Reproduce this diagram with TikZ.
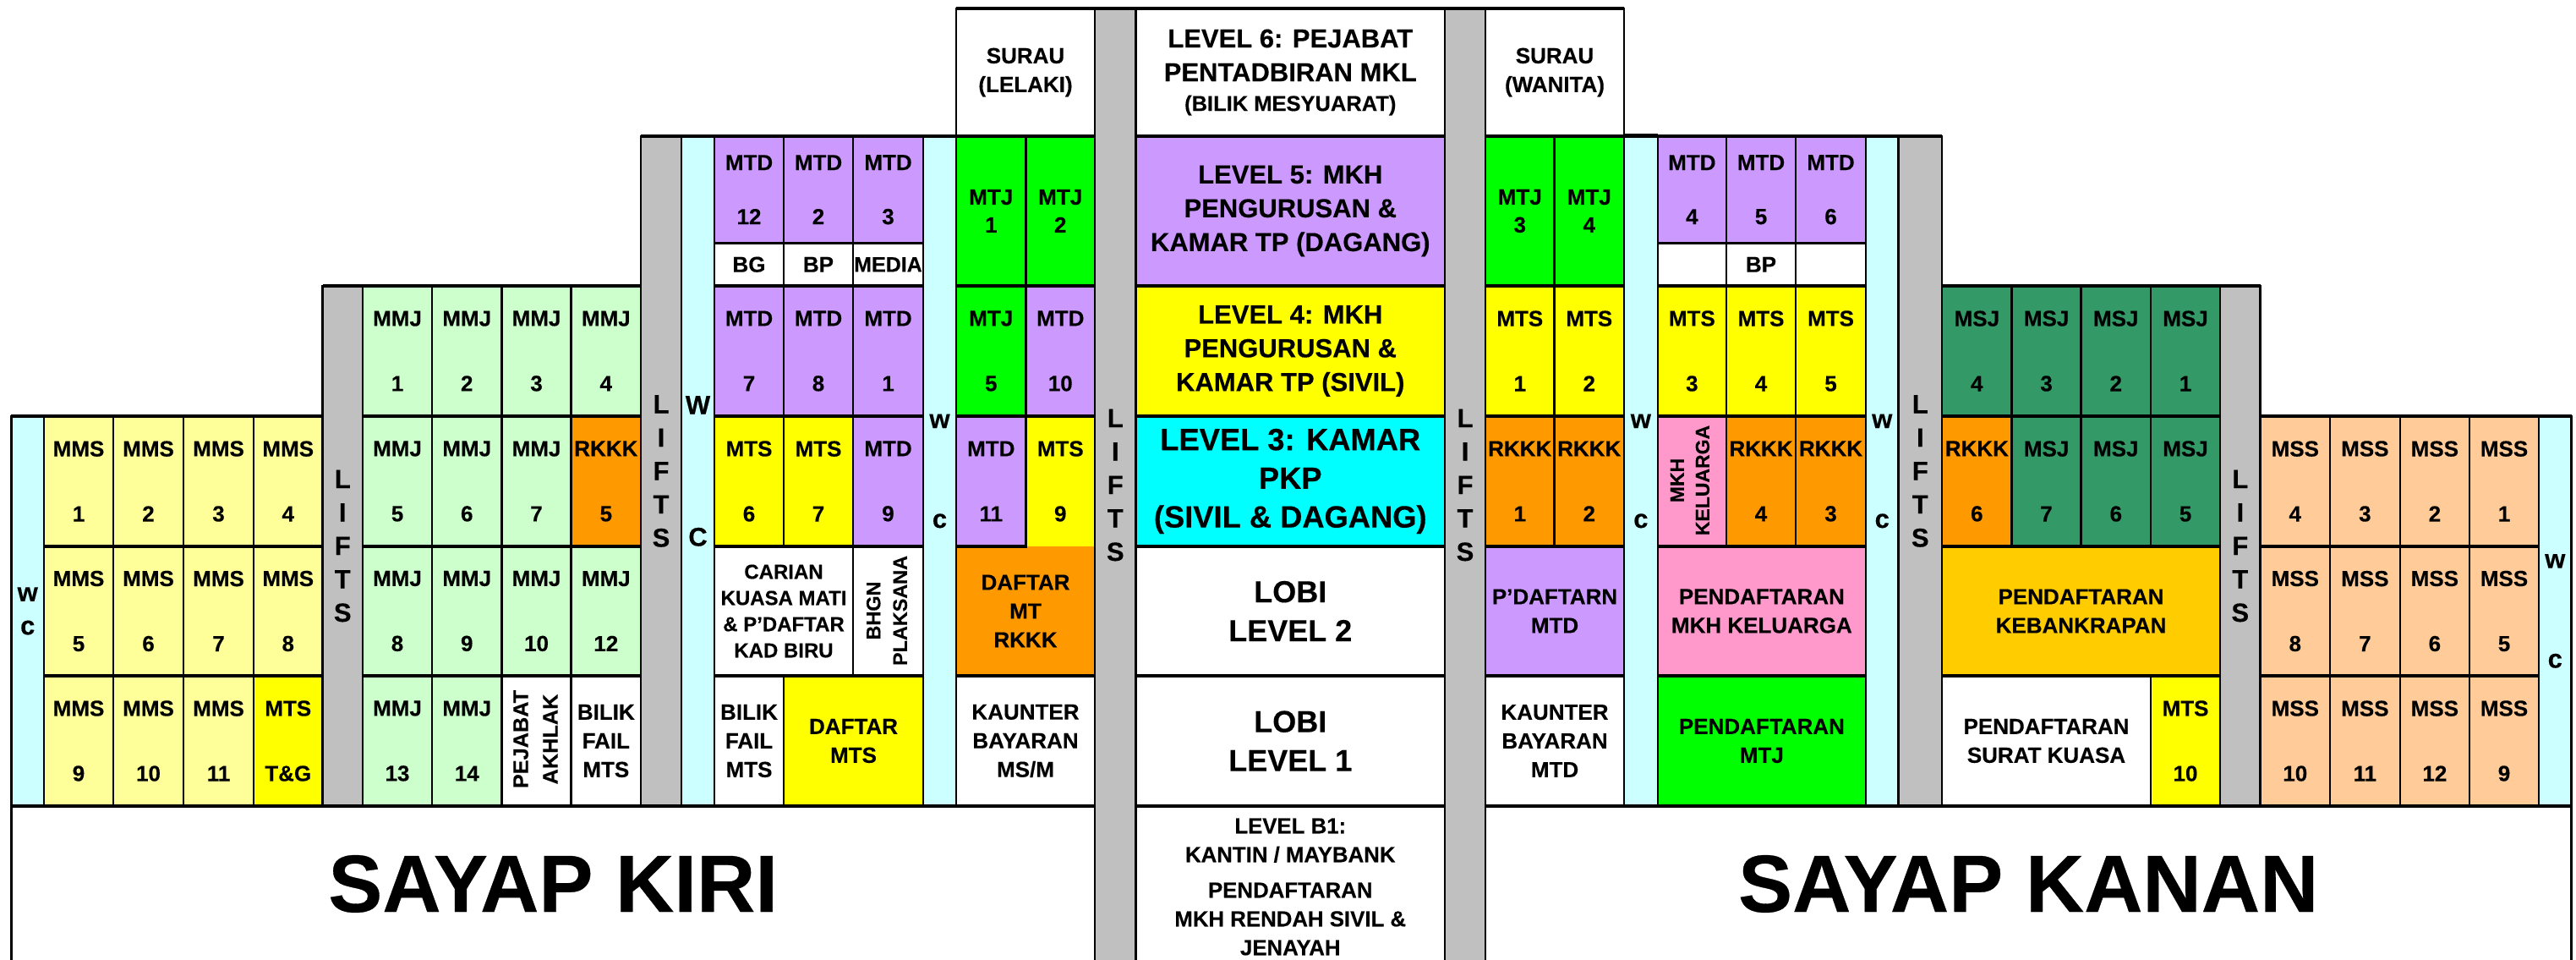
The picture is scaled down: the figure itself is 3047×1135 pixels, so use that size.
\documentclass[tikz,border=0pt]{standalone}
\usepackage{fontspec}
\setmainfont[BoldFeatures={FakeBold=0.3}]{Liberation Sans}
\definecolor{cMMS}{HTML}{FFFF99}
\definecolor{cMMJ}{HTML}{CCFFCC}
\definecolor{cWC}{HTML}{CCFFFF}
\definecolor{cLift}{HTML}{C0C0C0}
\definecolor{cRK}{HTML}{FF9900}
\definecolor{cMTD}{HTML}{CC99FF}
\definecolor{cMTS}{HTML}{FFFF00}
\definecolor{cMTJ}{HTML}{00FF00}
\definecolor{cL3}{HTML}{00FFFF}
\definecolor{cPink}{HTML}{FF99CC}
\definecolor{cMSJ}{HTML}{339966}
\definecolor{cBank}{HTML}{FFCC00}
\definecolor{cMSS}{HTML}{FFCC99}
\tikzset{
  lead/.style 2 args={font=\fontsize{#1}{#2}\selectfont\bfseries},
  cellbox/.style={draw=black,line width=2.4pt,inner sep=0pt,outer sep=0pt,align=center,text=black,lead={26}{34}},
  hrule/.style={line width=3.2pt,line cap=butt},
  tall/.style={lead={26}{77}},
  mid/.style={lead={26}{64}},
  near/.style={lead={26}{33}},
  liftbox/.style={lead={31}{39.5}},
  rottext/.style={inner sep=0pt,outer sep=0pt,rotate=90,align=center,text=black},
  big/.style={lead={96}{100}},
}
\newcommand\cell[8][]{%
  \pgfmathsetmacro\cw{#5-#3}\pgfmathsetmacro\ch{#6-#4}%
  \pgfmathsetmacro\cx{(#5+#3)/2}\pgfmathsetmacro\cy{(#6+#4)/2}%
  \node[cellbox,fill=#7,minimum width=\cw pt,minimum height=\ch pt,#1] (#2) at (\cx,\cy) {#8};
  \draw[hrule] (#2.north west) -- (#2.north east) (#2.south west) -- (#2.south east);}
\begin{document}
\begin{tikzpicture}[x=1pt,y=-1pt]
\useasboundingbox (0,0) rectangle (3047,1135);
\fill[white] (0,0) rectangle (3047,1135);
% ---- bottom wings
\cell[big]{kiri}{13.4}{953}{1295}{1137}{white}{SAYAP KIRI}
\cell[big]{kanan}{1757}{953}{3041.6}{1137}{white}{SAYAP KANAN}
% ---- far left wing
\cell[liftbox]{wcA}{13.4}{492}{52}{953}{cWC}{w\\c}
\cell[tall]{ms1}{52}{492}{134}{646}{cMMS}{MMS\\1}
\cell[tall]{ms2}{134}{492}{217}{646}{cMMS}{MMS\\2}
\cell[tall]{ms3}{217}{492}{300}{646}{cMMS}{MMS\\3}
\cell[tall]{ms4}{300}{492}{381.5}{646}{cMMS}{MMS\\4}
\cell[tall]{ms5}{52}{646}{134}{799}{cMMS}{MMS\\5}
\cell[tall]{ms6}{134}{646}{217}{799}{cMMS}{MMS\\6}
\cell[tall]{ms7}{217}{646}{300}{799}{cMMS}{MMS\\7}
\cell[tall]{ms8}{300}{646}{381.5}{799}{cMMS}{MMS\\8}
\cell[tall]{ms9}{52}{799}{134}{953}{cMMS}{MMS\\9}
\cell[tall]{ms10}{134}{799}{217}{953}{cMMS}{MMS\\10}
\cell[tall]{ms11}{217}{799}{300}{953}{cMMS}{MMS\\11}
\cell[tall]{tg}{300}{799}{381.5}{953}{cMTS}{MTS\\T\&G}
\cell[liftbox]{liftA}{381.5}{338}{429}{953}{cLift}{L\\I\\F\\T\\S}
% ---- MMJ block
\cell[tall]{mj1}{429}{338}{511}{492}{cMMJ}{MMJ\\1}
\cell[tall]{mj2}{511}{338}{593.5}{492}{cMMJ}{MMJ\\2}
\cell[tall]{mj3}{593.5}{338}{675.6}{492}{cMMJ}{MMJ\\3}
\cell[tall]{mj4}{675.6}{338}{758}{492}{cMMJ}{MMJ\\4}
\cell[tall]{mj5}{429}{492}{511}{646}{cMMJ}{MMJ\\5}
\cell[tall]{mj6}{511}{492}{593.5}{646}{cMMJ}{MMJ\\6}
\cell[tall]{mj7}{593.5}{492}{675.6}{646}{cMMJ}{MMJ\\7}
\cell[tall]{rk5}{675.6}{492}{758}{646}{cRK}{RKKK\\5}
\cell[tall]{mj8}{429}{646}{511}{799}{cMMJ}{MMJ\\8}
\cell[tall]{mj9}{511}{646}{593.5}{799}{cMMJ}{MMJ\\9}
\cell[tall]{mj10}{593.5}{646}{675.6}{799}{cMMJ}{MMJ\\10}
\cell[tall]{mj12}{675.6}{646}{758}{799}{cMMJ}{MMJ\\12}
\cell[tall]{mj13}{429}{799}{511}{953}{cMMJ}{MMJ\\13}
\cell[tall]{mj14}{511}{799}{593.5}{953}{cMMJ}{MMJ\\14}
\cell{akhlak}{593.5}{799}{675.6}{953}{white}{}
\cell{bilikA}{675.6}{799}{758}{953}{white}{BILIK\\FAIL\\MTS}
\node[rottext,lead={25.3}{35}] (akhlakT) at (633.5,874) {PEJABAT\\AKHLAK};
\cell[liftbox]{liftB}{758}{161}{806}{953}{cLift}{L\\I\\F\\T\\S}
\cell[lead={31}{156}]{wcB}{806}{161}{845}{953}{cWC}{W\\C}
% ---- MTD block left
\cell[mid]{td12}{845}{161}{927}{287.5}{cMTD}{MTD\\12}
\cell[mid]{td2}{927}{161}{1009}{287.5}{cMTD}{MTD\\2}
\cell[mid]{td3}{1009}{161}{1092}{287.5}{cMTD}{MTD\\3}
\cell{bg}{845}{287.5}{927}{338}{white}{BG}
\cell{bpA}{927}{287.5}{1009}{338}{white}{BP}
\cell[lead={25}{34}]{media}{1009}{287.5}{1092}{338}{white}{MEDIA}
\cell[tall]{td7}{845}{338}{927}{492}{cMTD}{MTD\\7}
\cell[tall]{td8}{927}{338}{1009}{492}{cMTD}{MTD\\8}
\cell[tall]{td1}{1009}{338}{1092}{492}{cMTD}{MTD\\1}
\cell[tall]{ts6}{845}{492}{927}{646}{cMTS}{MTS\\6}
\cell[tall]{ts7}{927}{492}{1009}{646}{cMTS}{MTS\\7}
\cell[tall]{td9}{1009}{492}{1092}{646}{cMTD}{MTD\\9}
\cell[lead={24}{31}]{carian}{845}{646}{1009}{799}{white}{CARIAN\\KUASA MATI\\\&~P'DAFTAR\\KAD BIRU}
\cell{plak}{1009}{646}{1092}{799}{white}{}
\node[rottext,lead={23.4}{31.5}] (plakT) at (1049,722) {BHGN\\PLAKSANA};
\cell{bilikB}{845}{799}{927}{953}{white}{BILIK\\FAIL\\MTS}
\cell{dmts}{927}{799}{1092}{953}{cMTS}{DAFTAR\\MTS}
\cell[lead={31}{118}]{wcC}{1092}{161}{1131}{953}{cWC}{w\\c}
% ---- inner left
\cell{surauL}{1131}{10}{1295}{161}{white}{SURAU\\(LELAKI)}
\cell[near]{tj1}{1131}{161}{1213.5}{338}{cMTJ}{MTJ\\1}
\cell[near]{tj2}{1213.5}{161}{1295}{338}{cMTJ}{MTJ\\2}
\cell[tall]{tj5}{1131}{338}{1213.5}{492}{cMTJ}{MTJ\\5}
\cell[tall]{td10}{1213.5}{338}{1295}{492}{cMTD}{MTD\\10}
\cell[tall]{ts9}{1213.5}{492}{1295}{646}{cMTS}{MTS\\9}
\cell{drk}{1131}{646}{1295}{799}{cRK}{DAFTAR\\MT\\RKKK}
\cell[tall]{td11}{1131}{492}{1213.5}{646}{cMTD}{MTD\\11}
\fill[cMTS] (1214.8,642) rectangle (1293.8,646);
\fill[cRK] (1214.8,646) rectangle (1293.8,650);
\cell{kaunA}{1131}{799}{1295}{953}{white}{KAUNTER\\BAYARAN\\MS/M}
\cell[liftbox]{liftC}{1295}{10}{1343.5}{1137}{cLift}{L\\I\\F\\T\\S}
% ---- centre column
\cell[lead={31}{40}]{lv6}{1343.5}{10}{1709}{161}{white}{LEVEL 6: PEJABAT\\PENTADBIRAN MKL\\[-5pt]{\fontsize{25.5}{30}\selectfont (BILIK MESYUARAT)}}
\cell[lead={31}{40}]{lv5}{1343.5}{161}{1709}{338}{cMTD}{LEVEL 5: MKH\\PENGURUSAN \&\\KAMAR TP (DAGANG)}
\cell[lead={31}{40}]{lv4}{1343.5}{338}{1709}{492}{cMTS}{LEVEL 4: MKH\\PENGURUSAN \&\\KAMAR TP (SIVIL)}
\cell[lead={36.3}{45.7}]{lv3}{1343.5}{492}{1709}{646}{cL3}{LEVEL 3: KAMAR\\PKP\\(SIVIL \& DAGANG)}
\cell[lead={36}{46}]{lobi2}{1343.5}{646}{1709}{799}{white}{LOBI\\LEVEL 2}
\cell[lead={36}{46}]{lobi1}{1343.5}{799}{1709}{953}{white}{LOBI\\LEVEL 1}
\cell[lead={25.8}{34}]{b1}{1343.5}{953}{1709}{1144}{white}{LEVEL B1:\\KANTIN / MAYBANK\\[8pt]PENDAFTARAN\\MKH RENDAH SIVIL \&\\JENAYAH}
\cell[liftbox]{liftD}{1709}{10}{1757}{1137}{cLift}{L\\I\\F\\T\\S}
% ---- inner right
\cell{surauR}{1757}{10}{1921}{161}{white}{SURAU\\(WANITA)}
\cell[near]{tj3}{1757}{161}{1838.5}{338}{cMTJ}{MTJ\\3}
\cell[near]{tj4}{1838.5}{161}{1921}{338}{cMTJ}{MTJ\\4}
\cell[tall]{ts1}{1757}{338}{1838.5}{492}{cMTS}{MTS\\1}
\cell[tall]{ts2}{1838.5}{338}{1921}{492}{cMTS}{MTS\\2}
\cell[tall]{rk1}{1757}{492}{1838.5}{646}{cRK}{RKKK\\1}
\cell[tall]{rk2}{1838.5}{492}{1921}{646}{cRK}{RKKK\\2}
\cell{pdaf}{1757}{646}{1921}{799}{cMTD}{P'DAFTARN\\MTD}
\cell{kaunB}{1757}{799}{1921}{953}{white}{KAUNTER\\BAYARAN\\MTD}
\cell[lead={31}{118}]{wcD}{1921}{161}{1960.7}{953}{cWC}{w\\c}
\draw[line width=3.5pt] (wcD.north west) ++(0,-1) -- (1960.7,160);
% ---- MTD block right
\cell[mid]{td4}{1960.7}{161}{2042}{287.5}{cMTD}{MTD\\4}
\cell[mid]{td5}{2042}{161}{2124}{287.5}{cMTD}{MTD\\5}
\cell[mid]{td6}{2124}{161}{2207}{287.5}{cMTD}{MTD\\6}
\cell{blankA}{1960.7}{287.5}{2042}{338}{white}{}
\cell{bpB}{2042}{287.5}{2124}{338}{white}{BP}
\cell{blankB}{2124}{287.5}{2207}{338}{white}{}
\cell[tall]{ts3}{1960.7}{338}{2042}{492}{cMTS}{MTS\\3}
\cell[tall]{ts4}{2042}{338}{2124}{492}{cMTS}{MTS\\4}
\cell[tall]{ts5}{2124}{338}{2207}{492}{cMTS}{MTS\\5}
\cell{kel}{1960.7}{492}{2042}{646}{cPink}{}
\node[rottext,lead={23}{30}] (kelT) at (1999,568) {MKH\\KELUARGA};
\cell[tall]{rk4}{2042}{492}{2124}{646}{cRK}{RKKK\\4}
\cell[tall]{rk3}{2124}{492}{2207}{646}{cRK}{RKKK\\3}
\cell{pmk}{1960.7}{646}{2207}{799}{cPink}{PENDAFTARAN\\MKH KELUARGA}
\cell{pmj}{1960.7}{799}{2207}{953}{cMTJ}{PENDAFTARAN\\MTJ}
\cell[lead={31}{118}]{wcE}{2207}{161}{2245.5}{953}{cWC}{w\\c}
\cell[liftbox]{liftE}{2245.5}{161}{2297}{953}{cLift}{L\\I\\F\\T\\S}
% ---- MSJ block
\cell[tall]{sj4}{2297}{338}{2379.6}{492}{cMSJ}{MSJ\\4}
\cell[tall]{sj3}{2379.6}{338}{2461.5}{492}{cMSJ}{MSJ\\3}
\cell[tall]{sj2}{2461.5}{338}{2544}{492}{cMSJ}{MSJ\\2}
\cell[tall]{sj1}{2544}{338}{2626}{492}{cMSJ}{MSJ\\1}
\cell[tall]{rk6}{2297}{492}{2379.6}{646}{cRK}{RKKK\\6}
\cell[tall]{sj7}{2379.6}{492}{2461.5}{646}{cMSJ}{MSJ\\7}
\cell[tall]{sj6}{2461.5}{492}{2544}{646}{cMSJ}{MSJ\\6}
\cell[tall]{sj5}{2544}{492}{2626}{646}{cMSJ}{MSJ\\5}
\cell{bank}{2297}{646}{2626}{799}{cBank}{PENDAFTARAN\\KEBANKRAPAN}
\cell{surat}{2297}{799}{2544}{953}{white}{PENDAFTARAN\\SURAT KUASA}
\cell[tall]{ts10}{2544}{799}{2626}{953}{cMTS}{MTS\\10}
\cell[liftbox]{liftF}{2626}{338}{2673.5}{953}{cLift}{L\\I\\F\\T\\S}
% ---- far right wing
\cell[tall]{ss4}{2673.5}{492}{2756}{646}{cMSS}{MSS\\4}
\cell[tall]{ss3}{2756}{492}{2838.7}{646}{cMSS}{MSS\\3}
\cell[tall]{ss2}{2838.7}{492}{2921}{646}{cMSS}{MSS\\2}
\cell[tall]{ss1}{2921}{492}{3003}{646}{cMSS}{MSS\\1}
\cell[tall]{ss8}{2673.5}{646}{2756}{799}{cMSS}{MSS\\8}
\cell[tall]{ss7}{2756}{646}{2838.7}{799}{cMSS}{MSS\\7}
\cell[tall]{ss6}{2838.7}{646}{2921}{799}{cMSS}{MSS\\6}
\cell[tall]{ss5}{2921}{646}{3003}{799}{cMSS}{MSS\\5}
\cell[tall]{ss10}{2673.5}{799}{2756}{953}{cMSS}{MSS\\10}
\cell[tall]{ss11}{2756}{799}{2838.7}{953}{cMSS}{MSS\\11}
\cell[tall]{ss12}{2838.7}{799}{2921}{953}{cMSS}{MSS\\12}
\cell[tall]{ss9}{2921}{799}{3003}{953}{cMSS}{MSS\\9}
\cell[lead={31}{118}]{wcF}{3003}{492}{3041.6}{953}{cWC}{w\\c}
\end{tikzpicture}
\end{document}
